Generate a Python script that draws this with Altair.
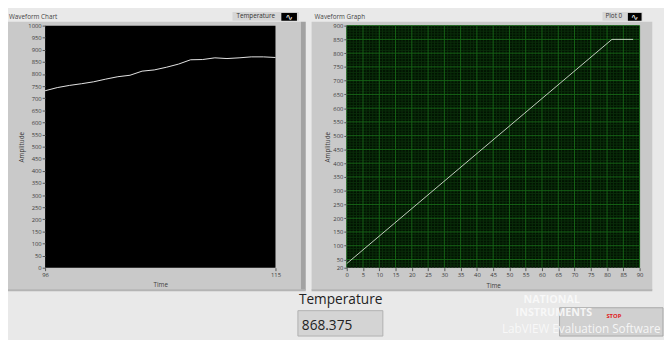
import altair as alt
import pandas as pd

# ---------------- data ----------------
# Waveform Chart (left): temperature history
chart_time = [96, 97, 98, 99, 100, 101, 102, 103, 104, 105,
              106, 107, 108, 109, 110, 111, 112, 113, 114, 115]
chart_temp = [731, 744, 753, 760, 768, 779, 789, 795, 812, 817,
              828, 841, 859, 860, 867, 864, 867, 871, 871, 868.375]
chart_y_ticks = [0, 50, 100, 150, 200, 250, 300, 350, 400, 450, 500,
                 550, 600, 650, 700, 750, 800, 850, 900, 950, 1000]
chart_x_ticks = [96, 115]

# Waveform Graph (right): ramp then hold
graph_time = [0, 81.5, 88]
graph_amp = [35, 850, 850]
graph_x_ticks = [0, 5, 10, 15, 20, 25, 30, 35, 40, 45,
                 50, 55, 60, 65, 70, 75, 80, 85, 90]
graph_y_ticks = [20, 50, 100, 150, 200, 250, 300, 350, 400, 450,
                 500, 550, 600, 650, 700, 750, 800, 850, 900]
graph_minor_x = [v for v in range(0, 91) if v % 5]
graph_minor_y = [v for v in range(30, 900, 10) if v % 50]

current_temperature = "868.375"

FONT = "Open Sans"
TXT = "#3c3c3c"
one = pd.DataFrame({"k": [0]})


def box(x, x2, y, y2, fill, stroke=None, sw=0):
    kw = dict(fill=fill, strokeWidth=sw)
    if stroke:
        kw["stroke"] = stroke
    return alt.Chart(one).mark_rect(**kw).encode(
        x=alt.value(x), x2=alt.value(x2), y=alt.value(y), y2=alt.value(y2))


def label(x, y, s, size, color, align="left", baseline="middle",
          weight="normal", opacity=1.0, font=FONT):
    return alt.Chart(one).mark_text(
        text=s, align=align, baseline=baseline, fontSize=size, color=color,
        font=font, fontWeight=weight, opacity=opacity,
    ).encode(x=alt.value(x), y=alt.value(y))


def axis(values, title, tx, ty, angle):
    return alt.Axis(
        values=values, title=title, domain=False, grid=False,
        ticks=True, tickSize=3, tickColor="#555555", tickWidth=1,
        labelFont=FONT, labelFontSize=6, labelColor=TXT, labelPadding=1,
        labelFlush=False, labelOverlap=False, format="d",
        titleFont=FONT, titleFontSize=6.5, titleFontWeight="normal",
        titleColor=TXT, titleX=tx, titleY=ty, titleAngle=angle,
        titleAlign="center", titleBaseline="middle", zindex=1,
    )


# ---------------- left: Waveform Chart ----------------
W1, W2, H = 236, 300, 248

left_df = pd.DataFrame({"t": chart_time, "v": chart_temp})
lx = alt.Scale(domain=[96, 115], nice=False, zero=False)
ly = alt.Scale(domain=[0, 1000], nice=False)

left_line = alt.Chart(left_df).mark_line(color="#e8e8e8", strokeWidth=1).encode(
    x=alt.X("t:Q", scale=lx, axis=axis(chart_x_ticks, "Time", W1 / 2, 17, 0)),
    y=alt.Y("v:Q", scale=ly, axis=axis(chart_y_ticks, "Amplitude", -24, H / 2, 270)),
)

left = alt.layer(
    box(-38, 624, -14, 316, "#e9e9e9"),
    box(-38, 262, -4, 271, "#c9c9c9"),
    box(262, 267, -4, 271, "#a2a2a2"),
    box(-38, 267, 270, 272, "#b4b4b4"),
    label(-37, -9, "Waveform Chart", 6.5, "#444444"),
    box(192, 260, -14, -5, "#d6d6d6"),
    label(196, -9.5, "Temperature", 6.5, "#333333"),
    box(242, 258, -13, -5, "#000000"),
    label(250, -9, "\u223f", 9, "#ffffff", align="center", font="DejaVu Sans"),
    box(0, W1, 0, H, "#000000"),
    left_line,
).properties(width=W1, height=H)

# ---------------- right: Waveform Graph ----------------
right_df = pd.DataFrame({"t": graph_time, "a": graph_amp})
rx = alt.Scale(domain=[0, 90], nice=False, zero=False)
ry = alt.Scale(domain=[20, 900], nice=False, zero=False)
rx_axis = axis(graph_x_ticks, "Time", W2 / 2, 18, 0)
ry_axis = axis(graph_y_ticks, "Amplitude", -20, H / 2, 270)


def vrules(vals, color):
    return alt.Chart(pd.DataFrame({"t": vals})).mark_rule(
        color=color, strokeWidth=1).encode(x=alt.X("t:Q", scale=rx, axis=rx_axis))


def hrules(vals, color):
    return alt.Chart(pd.DataFrame({"a": vals})).mark_rule(
        color=color, strokeWidth=1).encode(y=alt.Y("a:Q", scale=ry, axis=ry_axis))


right_line = alt.Chart(right_df).mark_line(color="#c4d2c0", strokeWidth=1).encode(
    x=alt.X("t:Q", scale=rx, axis=rx_axis),
    y=alt.Y("a:Q", scale=ry, axis=ry_axis),
)

right = alt.layer(
    box(-36, 313, -4, 271, "#c9c9c9"),
    box(-36, 313, 270, 272, "#b4b4b4"),
    label(-33, -9, "Waveform Graph", 6.5, "#444444"),
    box(262, 303, -14, -5, "#d6d6d6"),
    label(265, -9.5, "Plot 0", 6.5, "#333333"),
    box(288, 302, -13, -5, "#000000"),
    label(295, -9, "\u223f", 9, "#ffffff", align="center", font="DejaVu Sans"),
    box(0, W2, 0, H, "#021202"),
    vrules(graph_minor_x, "#0a2e0a"),
    hrules(graph_minor_y, "#0a2e0a"),
    vrules(graph_x_ticks, "#176417"),
    hrules(graph_y_ticks[1:], "#176417"),
    right_line,
    # front panel items below the graphs
    label(-49, 285, "Temperature", 14, "#222222", baseline="alphabetic"),
    box(-50, 37, 292, 318, "#d4d4d4", "#b0b0b0", 1),
    label(-46, 312, current_temperature, 14, "#222222", baseline="alphabetic"),
    box(218, 324, 289, 318, "#d0d0d0", "#a8a8a8", 1),
    label(266, 297, "STOP", 6, "#e02020", weight="bold"),
    label(181, 281, "NATIONAL", 11, "#fafafa", weight="bold", opacity=0.9),
    label(173, 294, "INSTRUMENTS", 11, "#fafafa", weight="bold", opacity=0.9),
    label(159, 311, "LabVIEW Evaluation Software", 12, "#fafafa", opacity=0.9),
).properties(width=W2, height=H)

chart = alt.hconcat(left, right, spacing=73, bounds="flush").properties(
    padding=0, background="#e9e9e9"
).configure_view(strokeWidth=0)

chart.save("out.html", embed_options={"renderer": "svg", "actions": False})
